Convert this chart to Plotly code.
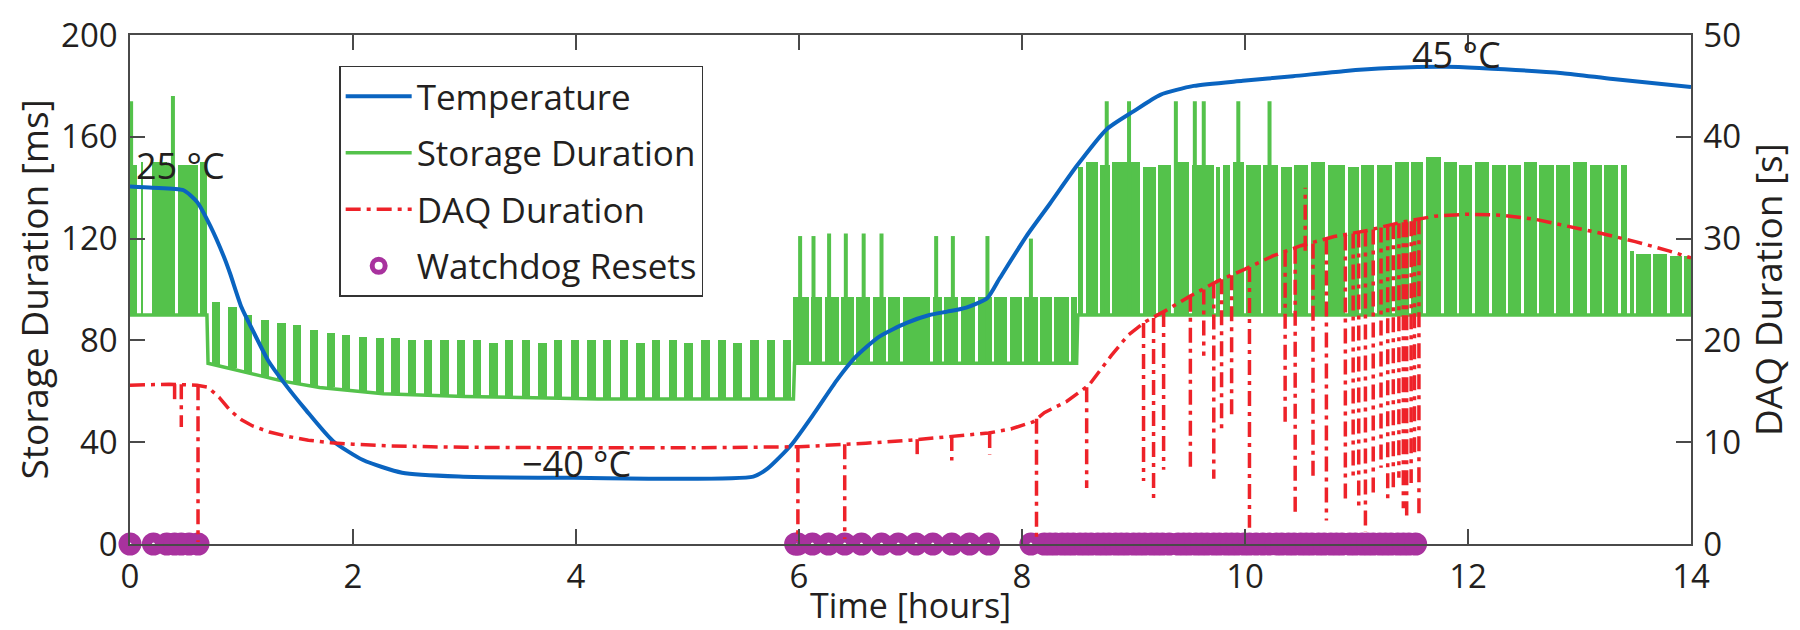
import plotly.graph_objects as go

# ------------------------------------------------------------------ data
x_tick_vals = [0, 2, 4, 6, 8, 10, 12, 14]
left_tick_vals = [0, 40, 80, 120, 160, 200]
right_tick_vals = [0, 10, 20, 30, 40, 50]

# Temperature trace, drawn on the left (ms) scale as in the original figure
temp_time = [0, 0.2, 0.48, 0.6, 0.72, 0.85, 0.9, 1.0, 1.1, 1.24, 1.37, 1.58, 1.82, 2.09, 2.44,
             2.95, 3.98, 5.59, 5.72, 5.93, 6.14, 6.34, 6.51, 6.72, 6.96, 7.17, 7.33, 7.5, 7.69,
             7.8, 8.04, 8.25, 8.49, 8.76, 9.0, 9.24, 9.54, 9.98, 10.43, 10.88, 11.3, 11.8, 12.1,
             12.85, 13.3, 14.0]
temp_level = [140.5, 140, 139, 134.5, 125, 112, 106, 93, 84, 72, 64, 52.5, 40.5, 33, 28,
              26.5, 26, 26.5, 29.7, 38.9, 51.6, 64.4, 73.6, 81.5, 86.8, 90, 91.3, 92.9, 96.7,
              104.4, 121, 133.7, 148.5, 163, 170, 176.5, 180, 182, 183.8, 185.8, 187, 187.5, 187,
              185, 182.7, 179.6]

temp_labels = ["25 °C", "\u221240 °C", "45 °C"]
temp_label_time = [0.45, 4.0, 11.9]
temp_label_level = [148.7, 31.5, 192.5]

# Storage duration: continuous baseline
storage_base_time = [0.0, 0.69, 0.70, 0.9, 1.1, 1.37, 1.7, 2.27, 3.0, 4.2, 5.95, 5.96, 8.49, 8.50, 14.0]
storage_base_ms = [90, 90, 71, 69, 67, 64, 61.5, 59, 58, 57, 57, 71, 71, 90, 90]

# segment A (0 - 0.69 h): bursts between 90 and ~150 ms
storage_a_start = [0.00, 0.03, 0.095, 0.20, 0.33, 0.43, 0.625]
storage_a_end = [0.03, 0.06, 0.12, 0.33, 0.40, 0.61, 0.69]
storage_a_top = [150, 149, 150, 150, 149, 149, 150]
storage_a_low = 90

# segment B (0.7 - 5.95 h): periodic bursts
storage_b_center = [0.77, 0.92, 1.06, 1.21, 1.36, 1.50, 1.65, 1.80, 1.94, 2.09, 2.24, 2.38,
                    2.53, 2.67, 2.82, 2.97, 3.11, 3.26, 3.40, 3.55, 3.70, 3.84, 3.99, 4.14,
                    4.28, 4.43, 4.58, 4.72, 4.87, 5.01, 5.16, 5.31, 5.45, 5.60, 5.75, 5.89]
storage_b_top = [95, 93, 90, 88, 87, 86, 84, 83, 82, 81.5, 81, 81, 80, 80, 80, 80, 80, 79,
                 80, 80, 79, 80, 80, 80, 80, 80, 79, 80, 80, 79, 80, 80, 79, 80, 80, 80]
storage_b_low = [70, 69, 67, 65.5, 64, 63, 62, 61.5, 61, 60, 59.5, 59, 59, 58.5, 58.5, 58,
                 58, 58, 58, 57.5, 57.5, 57.5, 57, 57, 57, 57, 57, 57, 57, 57, 57, 57, 57, 57, 57, 57]
storage_b_duration = 0.075

# segment C (5.95 - 8.49 h)
storage_c_span = [5.95, 8.49]
storage_c_gaps = [6.10, 6.22, 6.37, 6.50, 6.65, 6.79, 6.92, 7.19, 7.29, 7.44, 7.59, 7.74,
                  7.88, 8.01, 8.15, 8.28, 8.43]
storage_c_top = 97
storage_c_low = 71

# segment D (8.5 - 13.43 h)
storage_d_span = [8.50, 13.43]
storage_d_gaps = [8.56, 8.69, 8.80, 9.07, 9.21, 9.35, 9.51, 9.73, 9.79, 9.88, 10.00, 10.15,
                  10.31, 10.43, 10.58, 10.73, 10.91, 11.03, 11.17, 11.33, 11.48, 11.61, 11.77,
                  11.91, 12.05, 12.20, 12.35, 12.49, 12.63, 12.78, 12.93, 13.08, 13.21, 13.36]
storage_d_top = [148, 150, 149, 150, 148, 149, 150, 149, 148, 149, 150, 149, 149, 148, 149,
                 150, 149, 148, 149, 149, 150, 150, 152, 150, 149, 150, 149, 149, 150, 149,
                 149, 150, 149, 149, 149]
storage_d_low = 90

# segment E (13.45 - 14 h)
storage_e_span = [13.45, 14.0]
storage_e_gaps = [13.50, 13.65, 13.80, 13.93]
storage_e_top = [115, 114, 114, 113, 113]
storage_e_low = 90

storage_gap_width = 0.022

# isolated tall storage spikes
storage_spike_time = [0.01, 0.385, 6.01, 6.13, 6.27, 6.42, 6.58, 6.74, 7.23, 7.38, 7.69, 8.08,
                      8.76, 8.96, 9.38, 9.55, 9.63, 9.94, 10.22]
storage_spike_from = [90, 90, 71, 71, 71, 71, 71, 71, 71, 71, 71, 71, 90, 90, 90, 90, 90, 90, 90]
storage_spike_peak = [174, 176, 121, 121, 122, 122, 122, 122, 121, 121, 121, 120, 174, 174,
                      174, 174, 174, 174, 174]

# DAQ duration [s]
daq_time = [0, 0.35, 0.6, 0.7, 0.8, 0.9, 1.0, 1.1, 1.25, 1.4, 1.6, 1.8, 2.0, 2.3, 2.7, 3.0,
            4.0, 5.0, 6.0, 6.3, 6.6, 7.0, 7.4, 7.7, 7.9, 8.1, 8.2, 8.4, 8.6, 8.8, 8.95, 9.1,
            9.3, 9.5, 9.75, 10.0, 10.25, 10.5, 10.8, 11.1, 11.4, 11.7, 12.0, 12.3, 12.6, 12.9,
            13.2, 13.5, 13.8, 14.0]
daq_seconds = [15.6, 15.7, 15.6, 15.4, 14.4, 13.1, 12.2, 11.6, 11.0, 10.6, 10.2, 9.95, 9.8,
               9.65, 9.55, 9.5, 9.45, 9.45, 9.55, 9.7, 9.9, 10.2, 10.6, 10.9, 11.3, 12.0, 12.9,
               14.0, 15.6, 18.5, 20.5, 21.8, 23.0, 24.3, 25.8, 27.0, 28.3, 29.3, 30.2, 30.8,
               31.6, 32.2, 32.4, 32.3, 31.9, 31.2, 30.5, 29.7, 28.8, 28.1]

daq_dip_time = [0.40, 0.46, 0.61, 5.99, 6.41, 7.06, 7.37, 7.71, 8.13, 8.58, 9.09, 9.18, 9.27,
                9.51, 9.63, 9.72, 9.79, 9.88, 10.04, 10.36, 10.45, 10.54, 10.61, 10.73, 10.90,
                10.97, 11.02, 11.08, 11.15, 11.22, 11.28, 11.33, 11.38, 11.42, 11.45, 11.49,
                11.52, 11.56]
daq_dip_from = [15.7, 15.7, 15.6, 9.5, 9.8, 10.3, 10.6, 10.9, 12.3, 15.4, 21.7, 22.2, 22.8,
                24.3, 25.0, 25.6, 26.0, 26.4, 27.2, 28.7, 29.0, 28.8, 29.5, 29.9, 30.3, 30.5,
                30.6, 30.7, 30.9, 31.1, 31.3, 31.4, 31.5, 31.6, 31.6, 31.7, 31.8, 31.9]
daq_dip_to = [14.0, 11.5, 0.2, 0.3, 0.5, 8.3, 8.2, 8.8, 0.3, 5.5, 6.2, 4.5, 7.3, 7.3, 18.5,
              6.4, 10.8, 12.2, 1.6, 11.6, 2.8, 35.0, 6.2, 2.3, 4.2, 6.5, 3.5, 1.2, 4.9, 7.5,
              4.0, 5.0, 6.5, 3.5, 2.8, 6.0, 8.8, 3.0]

# Watchdog resets (hours)
watchdog_time = [0.0, 0.21, 0.33, 0.40, 0.46, 0.53, 0.61,
                 5.97, 5.99, 6.12, 6.265, 6.41, 6.56, 6.74, 6.89, 7.05, 7.20, 7.37, 7.53, 7.70,
                 8.08, 8.20, 8.25, 8.30, 8.36, 8.41, 8.46, 8.52, 8.57, 8.62, 8.68, 8.73, 8.78,
                 8.84, 8.89, 8.94, 9.00, 9.05, 9.10, 9.16, 9.21, 9.26, 9.32, 9.40, 9.45, 9.50,
                 9.56, 9.61, 9.66, 9.72, 9.77, 9.83, 9.88, 9.93, 9.99, 10.04, 10.10, 10.16,
                 10.22, 10.28, 10.33, 10.39, 10.44, 10.50, 10.55, 10.60, 10.66, 10.71, 10.77,
                 10.82, 10.87, 10.94, 10.99, 11.05, 11.10, 11.15, 11.21, 11.26, 11.31, 11.37,
                 11.42, 11.47, 11.53]

# ------------------------------------------------------------------ style
GREEN = "#54C24B"
BLUE = "#0A64C0"
RED = "#EE2229"
PURPLE = "#A8329E"
TEXT = "#231F20"
AXIS = "#4A4A4A"
FONT = "Open Sans"

# ------------------------------------------------------------------ build blocks
blk_start, blk_end, blk_low, blk_top = [], [], [], []

for s, e, t in zip(storage_a_start, storage_a_end, storage_a_top):
    blk_start.append(s); blk_end.append(e); blk_low.append(storage_a_low); blk_top.append(t)

for c, t, lo in zip(storage_b_center, storage_b_top, storage_b_low):
    blk_start.append(c - storage_b_duration / 2); blk_end.append(c + storage_b_duration / 2)
    blk_low.append(lo); blk_top.append(t)


def add_gapped(span, gaps, tops, low):
    edges = [span[0]] + gaps + [span[1]]
    if not isinstance(tops, list):
        tops = [tops] * (len(edges) - 1)
    for i in range(len(edges) - 1):
        a, b = edges[i], edges[i + 1]
        s = a if i == 0 else a + storage_gap_width / 2
        e = b if i == len(edges) - 2 else b - storage_gap_width / 2
        blk_start.append(s); blk_end.append(e); blk_low.append(low); blk_top.append(tops[i])


add_gapped(storage_c_span, storage_c_gaps, storage_c_top, storage_c_low)
add_gapped(storage_d_span, storage_d_gaps, storage_d_top, storage_d_low)
add_gapped(storage_e_span, storage_e_gaps, storage_e_top, storage_e_low)

fig = go.Figure()

fig.add_trace(go.Bar(
    x=[(s + e) / 2 for s, e in zip(blk_start, blk_end)],
    width=[e - s for s, e in zip(blk_start, blk_end)],
    base=blk_low,
    y=[t - l for t, l in zip(blk_top, blk_low)],
    marker=dict(color=GREEN, line=dict(width=0)),
    showlegend=False, hoverinfo="skip", yaxis="y"))

fig.add_trace(go.Scatter(
    x=storage_base_time, y=storage_base_ms, mode="lines", name="Storage Duration",
    line=dict(color=GREEN, width=3.5), legendrank=2, legendgroup="s"))

sx, sy = [], []
for t, f, p in zip(storage_spike_time, storage_spike_from, storage_spike_peak):
    sx += [t, t, None]; sy += [f, p, None]
fig.add_trace(go.Scatter(x=sx, y=sy, mode="lines", line=dict(color=GREEN, width=4),
                         showlegend=False, hoverinfo="skip", legendgroup="s"))

DASH = "15px,6px,4px,6px"
fig.add_trace(go.Scatter(
    x=daq_time, y=daq_seconds, mode="lines", name="DAQ Duration", yaxis="y2",
    line=dict(color=RED, width=3.5, dash=DASH), legendrank=3, legendgroup="d"))

dx, dy = [], []
for t, f, to in zip(daq_dip_time, daq_dip_from, daq_dip_to):
    dx += [t, t, None]; dy += [f, to, None]
fig.add_trace(go.Scatter(x=dx, y=dy, mode="lines", yaxis="y2",
                         line=dict(color=RED, width=3.5, dash=DASH),
                         showlegend=False, hoverinfo="skip", legendgroup="d"))

fig.add_trace(go.Scatter(
    x=temp_time, y=temp_level, mode="lines", name="Temperature",
    line=dict(color=BLUE, width=4, shape="spline", smoothing=0.6), legendrank=1, legendgroup="t"))

fig.add_trace(go.Scatter(
    x=watchdog_time, y=[0] * len(watchdog_time), mode="markers", name="Watchdog Resets",
    marker=dict(symbol="circle-open", size=13, color=PURPLE, line=dict(width=10, color=PURPLE)),
    cliponaxis=False, legendrank=4, legendgroup="w"))

annotations = []
for txt, t, v in zip(temp_labels, temp_label_time, temp_label_level):
    annotations.append(dict(x=t, y=v, xref="x", yref="y", text=txt, showarrow=False,
                            font=dict(family=FONT, size=36, color=TEXT),
                            xanchor="center", yanchor="middle"))

annotations += [
    dict(x=-0.0615, y=0.5, xref="paper", yref="paper", text="Storage Duration [ms]",
         textangle=-90, showarrow=False, font=dict(family=FONT, size=37, color=TEXT),
         xanchor="center", yanchor="middle"),
    dict(x=1.049, y=0.5, xref="paper", yref="paper", text="DAQ Duration [s]",
         textangle=-90, showarrow=False, font=dict(family=FONT, size=37, color=TEXT),
         xanchor="center", yanchor="middle"),
    dict(x=0.5, y=-0.119, xref="paper", yref="paper", text="Time [hours]",
         showarrow=False, font=dict(family=FONT, size=34, color=TEXT),
         xanchor="center", yanchor="middle"),
]

axis_common = dict(showgrid=False, zeroline=False, showline=True, linecolor=AXIS, linewidth=1.5,
                   ticks="inside", ticklen=15, tickwidth=1.5, tickcolor=AXIS,
                   tickfont=dict(family=FONT, size=33, color=TEXT))

fig.update_layout(
    width=1800, height=630,
    margin=dict(l=130, r=109, t=25, b=86),
    paper_bgcolor="white", plot_bgcolor="white",
    barmode="overlay", bargap=0,
    font=dict(family=FONT, color=TEXT),
    xaxis=dict(range=[0, 14], tickvals=x_tick_vals, mirror="ticks", ticklabelstandoff=3,
               **axis_common),
    yaxis=dict(range=[0, 200], tickvals=left_tick_vals, ticklabelstandoff=4, **axis_common),
    yaxis2=dict(range=[0, 50], tickvals=right_tick_vals, overlaying="y", side="right",
                ticklabelstandoff=4, **axis_common),
    legend=dict(x=0.134, y=0.94, xanchor="left", yanchor="top", bgcolor="white",
                bordercolor="#333333", borderwidth=1.5, tracegroupgap=8, itemwidth=66,
                font=dict(family=FONT, size=35, color=TEXT)),
    annotations=annotations,
    showlegend=True,
)

fig.write_html("out.html", config={"displayModeBar": False},
               post_script="document.body.style.margin='0';")
